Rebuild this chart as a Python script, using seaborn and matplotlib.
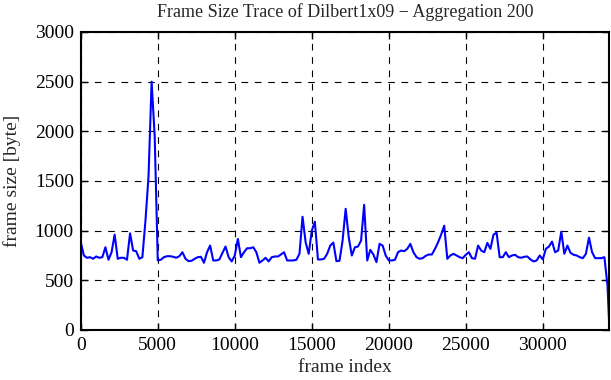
import numpy as np
import pandas as pd
import matplotlib
matplotlib.use("Agg")
import matplotlib.pyplot as plt
import seaborn as sns

# === DATA (aggregated frame sizes, one value per 200 frames) ===
frame_size = [
    883, 750, 727, 733, 717, 740, 727, 733, 833, 707,
    783, 960, 717, 727, 727, 707, 973, 800, 793, 717,
    733, 1100, 1550, 2500, 1950, 700, 707, 733, 743, 743,
    737, 727, 743, 783, 717, 693, 697, 717, 733, 737,
    677, 783, 850, 700, 700, 710, 777, 840, 733, 690,
    750, 917, 733, 783, 823, 823, 833, 783, 677, 700,
    727, 690, 733, 740, 740, 760, 783, 700, 700, 700,
    707, 767, 1140, 883, 767, 1000, 1090, 710, 710, 717,
    767, 850, 880, 693, 697, 900, 1220, 933, 750, 833,
    840, 900, 1260, 700, 807, 760, 683, 867, 850, 750,
    700, 700, 707, 783, 800, 793, 817, 867, 783, 733,
    717, 723, 747, 760, 760, 817, 883, 960, 1050, 717,
    750, 767, 750, 733, 723, 757, 783, 723, 717, 850,
    800, 783, 877, 817, 960, 980, 733, 733, 783, 733,
    750, 757, 733, 727, 737, 740, 710, 690, 700, 750,
    710, 817, 840, 890, 783, 800, 990, 767, 850, 777,
    757, 750, 733, 723, 767, 930, 783, 723, 723, 723,
    733, 450, 0,
]
frame_index = list(range(0, 34400, 200)) + [34330]

x_ticks = [0, 5000, 10000, 15000, 20000, 25000, 30000]
y_ticks = [0, 500, 1000, 1500, 2000, 2500, 3000]

df = pd.DataFrame({"frame index": frame_index, "frame size": frame_size})

# === STYLE ===
sns.set_style("ticks")
plt.rcParams["font.family"] = ["Liberation Serif", "DejaVu Serif"]

fig = plt.figure(figsize=(6.11, 3.80), dpi=100)
ax = fig.add_axes([0.1322, 0.1316, 0.8653, 0.7842])

sns.lineplot(data=df, x="frame index", y="frame size", color="#0000ff",
             linewidth=1.5, ax=ax)

ax.set_xlim(0, 34330)
ax.set_ylim(0, 3000)
ax.set_xticks(x_ticks)
ax.set_yticks(y_ticks)
ax.grid(True, color="black", linestyle=(0, (6, 6)), linewidth=0.8)
ax.tick_params(direction="in", top=True, right=True, length=5, width=1,
               labelsize=14, colors="black", pad=5)
for sp in ax.spines.values():
    sp.set_visible(True)
    sp.set_linewidth(1.5)
    sp.set_color("black")

ax.set_title("Frame Size Trace of Dilbert1x09 \u2212 Aggregation 200",
             fontsize=13, pad=11)
ax.set_xlabel("frame index", fontsize=14, labelpad=4)
ax.set_ylabel("frame size [byte]", fontsize=14, labelpad=10)

fig.savefig("out.png", dpi=100)
plt.close(fig)
